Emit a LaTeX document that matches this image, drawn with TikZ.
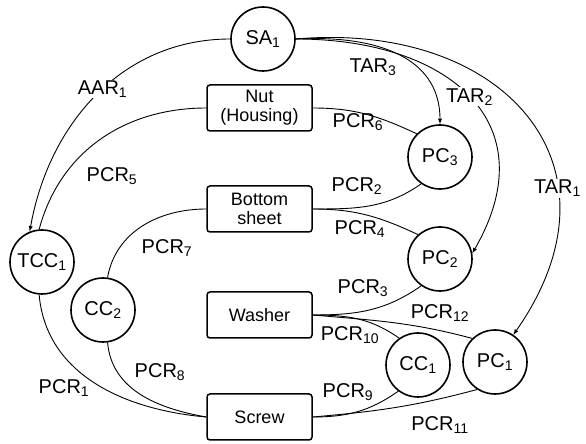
\documentclass[tikz,border=0pt]{standalone}
\usepackage{fontspec}
\setmainfont{Liberation Sans}

\begin{document}
\begin{tikzpicture}[
  x=1pt, y=1pt,
  every node/.style={font=\fontsize{20}{22}\selectfont},
  compcircle/.style={shape=circle, draw, line width=1.6pt, minimum size=64pt, inner sep=0pt},
  partbox/.style={shape=rectangle, draw, line width=1.5pt, rounded corners=3pt,
    minimum width=105pt, minimum height=46pt, align=center, font=\fontsize{18}{19}\selectfont},
  rel/.style={draw, line width=0.9pt},
  relarrow/.style={rel, -latex},
  lbl/.style={inner sep=1pt},
  gap/.style={fill=white}
]
\useasboundingbox (0,0) rectangle (586,444);

% components
\node [compcircle] (sa) at (263,405) {SA\textsubscript{1}};
\node [compcircle] (tcc) at (42,182) {TCC\textsubscript{1}};
\node [compcircle] (cc2) at (103,134) {CC\textsubscript{2}};
\node [compcircle] (pc3) at (440,287) {PC\textsubscript{3}};
\node [compcircle] (pc2) at (440,185) {PC\textsubscript{2}};
\node [compcircle] (cc1) at (418,79) {CC\textsubscript{1}};
\node [compcircle] (pc1) at (495,82) {PC\textsubscript{1}};

% parts
\node [partbox] (nut) at (259.5,336) {Nut\\(Housing)};
\node [partbox] (bottom) at (259.5,235) {Bottom\\sheet};
\node [partbox] (washer) at (259.5,129) {Washer};
\node [partbox] (screw) at (259.5,27) {Screw};

% left side
\draw [relarrow] (sa.west) to[out=180, in=80]
  node [lbl, gap, pos=0.47] (aar1) {AAR\textsubscript{1}} (tcc.112);
\draw [rel] (nut.west) to[out=180, in=75] (tcc.95);
\draw [rel] (tcc.265) to[out=-85, in=175] (screw.west);
\draw [rel] (bottom.west) to[out=180, in=80] (cc2.82);
\draw [rel] (cc2.278) to[out=-85, in=170] (screw.west);

% right side
\draw [rel] (nut.east) to[out=0, in=155] (pc3.135);
\draw [rel] (bottom.east) to[out=0, in=215] (pc3.235);
\draw [rel] (bottom.east) to[out=0, in=155] (pc2.132);
\draw [rel] (washer.east) to[out=0, in=215] (pc2.235);
\draw [rel] (washer.east) to[out=0, in=145] (cc1.125);
\draw [rel] (washer.east) to[out=-5, in=165] (pc1.134);
\draw [rel] (screw.east) to[out=0, in=215] (cc1.233);
\draw [rel] (screw.east) to[out=5, in=195] (pc1.237);

% from SA1
\draw [relarrow] (sa.east) to[out=3, in=90, looseness=1.1] (pc3.north);
\draw [relarrow] (sa.east) to[out=0, in=60, looseness=1.4]
  node [lbl, gap, pos=0.5] (tar2) {TAR\textsubscript{2}} (pc2.10);
\draw [relarrow] (sa.east) to[out=5, in=55, looseness=1.45]
  node [lbl, gap, pos=0.69] (tar1) {TAR\textsubscript{1}} (pc1.56);

% labels
\node [lbl] (tar3) at (373,377) {TAR\textsubscript{3}};
\node [lbl] (pcr5) at (112,268) {PCR\textsubscript{5}};
\node [lbl] (pcr6) at (358,322) {PCR\textsubscript{6}};
\node [lbl] (pcr2) at (357,258) {PCR\textsubscript{2}};
\node [lbl] (pcr7) at (167,196) {PCR\textsubscript{7}};
\node [lbl] (pcr4) at (360,215) {PCR\textsubscript{4}};
\node [lbl] (pcr3) at (363,156) {PCR\textsubscript{3}};
\node [lbl] (pcr12) at (440,131) {PCR\textsubscript{12}};
\node [lbl] (pcr10) at (350,109) {PCR\textsubscript{10}};
\node [lbl] (pcr8) at (160,72) {PCR\textsubscript{8}};
\node [lbl] (pcr1) at (64,56) {PCR\textsubscript{1}};
\node [lbl] (pcr9) at (348,52) {PCR\textsubscript{9}};
\node [lbl] (pcr11) at (440,19) {PCR\textsubscript{11}};
\end{tikzpicture}
\end{document}
